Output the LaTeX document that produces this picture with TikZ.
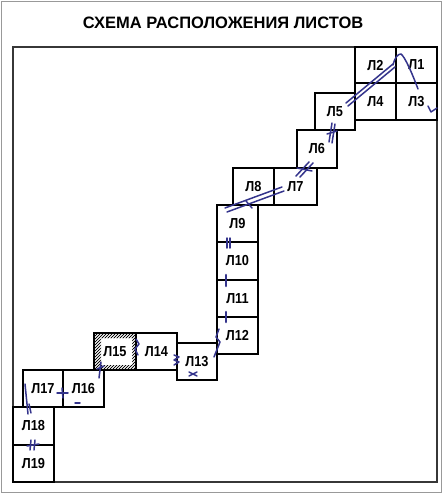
\documentclass[tikz,border=0pt]{standalone}
\usepackage{fontspec}
\setmainfont{Liberation Sans}
\newfontfamily\narrowsans[FakeStretch=0.88]{Liberation Sans}
\usetikzlibrary{patterns,calc}
\definecolor{ink}{RGB}{52,52,140}
\definecolor{framegray}{RGB}{55,55,55}
\begin{document}
\begin{tikzpicture}[x=1pt,y=-1pt,
  sheet/.style={draw=black,line width=1.8pt,inner sep=0pt,outer sep=0pt,
    minimum width=41pt,minimum height=37pt,
    font=\narrowsans\fontsize{14.5}{14.5}\selectfont\bfseries},
  pen/.style={draw=ink,line width=1.5pt,line cap=round,line join=round},
  titlestyle/.style={font=\fontsize{16.5}{16.5}\selectfont\bfseries,inner sep=0pt}]
\useasboundingbox (0,0) rectangle (443,494);
\fill[white] (0,0) rectangle (443,494);
\draw[gray!80,line width=1.5pt] (1.5,1.5) rectangle (441.5,492.5);
\node[titlestyle] (title) at (223,23) {СХЕМА РАСПОЛОЖЕНИЯ ЛИСТОВ};
\draw[framegray,line width=2.2pt] (13,47) rectangle (437,482);
% hatching of sheet 15
\fill[pattern=north east lines,even odd rule] (94,333) rectangle (136,370) (100,338) rectangle (132,365);
\fill[pattern=north east lines,even odd rule,xshift=1pt] (94,333) rectangle (135,370) (100,338) rectangle (132,365);
% sheets
\node[sheet,minimum height=36pt] (L1) at (416.5,65) {Л1};
\node[sheet,minimum height=36pt] (L2) at (375.5,65) {Л2};
\node[sheet] (L4) at (375.5,101.5) {Л4};
\node[sheet] (L3) at (416.5,101.5) {Л3};
\node[sheet,minimum width=40pt] (L5) at (335,111.5) {Л5};
\node[sheet,minimum width=40pt,minimum height=38pt] (L6) at (317,149) {Л6};
\node[sheet] (L8) at (253.5,186.5) {Л8};
\node[sheet,minimum width=43pt] (L7) at (295.5,186.5) {Л7};
\node[sheet] (L9) at (237.5,223.5) {Л9};
\node[sheet,minimum height=38pt] (L10) at (237.5,261) {Л10};
\node[sheet] (L11) at (237.5,298.5) {Л11};
\node[sheet] (L12) at (237.5,335.5) {Л12};
\node[sheet,minimum width=40pt] (L13) at (197,361.5) {Л13};
\node[sheet,minimum width=42pt] (L15) at (115,351.5) {Л15};
\node[sheet] (L14) at (156.5,351.5) {Л14};
\node[sheet,minimum width=40pt] (L17) at (43,388.5) {Л17};
\node[sheet] (L16) at (83.5,388.5) {Л16};
\node[sheet,minimum height=38pt] (L18) at (33.5,426) {Л18};
\node[sheet] (L19) at (33.5,463.5) {Л19};
% pen marks
% L5 -> L1 -> L3
\draw[pen] ($(L5.north east)+(-9,10)$) -- ($(L1.north west)+(-3,17)$);
\draw[pen] ($(L5.north east)+(-7,13)$) -- ($(L1.north west)+(-1,20)$);
\draw[pen] ($(L1.north west)+(-3,18)$) .. controls ($(L1.north west)+(-1,10)$) and ($(L1.north west)+(2,7)$) .. ($(L1.north west)+(5,7)$)
  .. controls ($(L1.north west)+(9,10)$) and ($(L1.north west)+(16,26)$) .. ($(L3.north west)+(22,6)$);
\draw[pen] ($(L3.south east)+(-9,-14)$) -- ($(L3.south east)+(-6,-8)$) -- ($(L3.south east)+(0,-12)$);
% L5 / L6
\draw[pen] (329,142) -- (332,123);
\draw[pen] (332,143) -- (335,124);
\draw[pen] (327,134) -- (337,131);
% L6 / L7
\draw[pen] (296,176) -- (309,162);
\draw[pen] (300,177) -- (313,163);
\draw[pen] (297,168) -- (312,171);
% L9 - L8 - L7
\draw[pen] ($(L9.north west)+(8,3)$) -- ($(L7.north west)+(8,19)$);
\draw[pen] ($(L9.north west)+(10,7)$) -- ($(L7.north west)+(10,23)$);
\draw[pen] (246,201) -- (252,208);
% L9 / L10, L10 / L11, L11 / L12
\draw[pen] ($(L9.south west)+(10,-4)$) -- ($(L10.north west)+(10,6)$);
\draw[pen] ($(L9.south west)+(13,-4)$) -- ($(L10.north west)+(13,6)$);
\draw[pen,line width=2.6pt] ($(L10.south west)+(9,-5)$) -- ($(L11.north west)+(9,6)$);
\draw[pen,line width=2.6pt] ($(L11.south west)+(9,-5)$) -- ($(L12.north west)+(9,5)$);
% L12 / L13
\draw[pen] (219,329) -- (216,337) -- (220,342) -- (214,357);
% L13 / L14
\draw[pen] (174,355) -- (179,357) -- (174,360) -- (179,362) -- (174,365);
\draw[pen] (189,372) -- (197,376);
\draw[pen] (189,376) -- (197,372);
% L14 / L15
\draw[pen] (136,339) -- (139,344) -- (135,349) -- (138,355);
% L15 / L16
\draw[pen] (101,362) -- (99,378);
\draw[pen] (97,369) -- (104,366);
% L16 / L17
\draw[pen] (57,393) -- (68,393);
\draw[pen] (62,388) -- (63,398);
\draw[pen] (75,403) -- (80,403);
% L17 / L18
\draw[pen] (25,384) -- (28,414);
\draw[pen] (29,404) -- (31,413);
% L18 / L19
\draw[pen] (27,446) -- (39,444);
\draw[pen] (31,440) -- (30,450);
\draw[pen] (35,440) -- (34,450);
\end{tikzpicture}
\end{document}
